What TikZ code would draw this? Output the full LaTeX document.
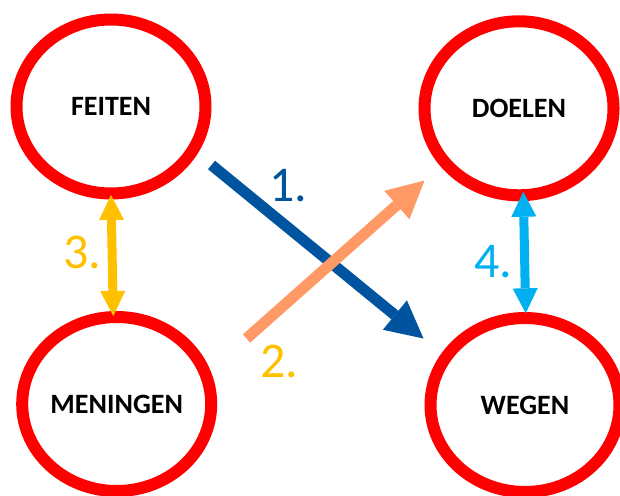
\documentclass[tikz,border=0pt]{standalone}
\usepackage{fontspec}
\setmainfont{Carlito}
\usetikzlibrary{arrows.meta,shapes.geometric}
\definecolor{ringred}{RGB}{255,0,0}
\definecolor{darkblue}{RGB}{0,83,159}
\definecolor{lightorange}{RGB}{255,153,102}
\definecolor{gold}{RGB}{255,192,0}
\definecolor{skyblue}{RGB}{0,176,240}
\begin{document}
\begin{tikzpicture}[x=1pt,y=-1pt,
  ring/.style={ellipse, draw=ringred, line width=12pt, minimum width=189pt,
    minimum height=174pt, inner sep=0pt, font=\fontsize{28}{34}\selectfont\bfseries},
  num/.style={inner sep=0pt, font=\fontsize{50}{60}\selectfont},
  bigarrow/.style={line width=11pt, -{Triangle[length=37pt,width=38pt,line width=0pt]}},
  dblarrow/.style={line width=9pt,
    {Triangle[length=25pt,width=25pt,line width=0pt]}-{Triangle[length=25pt,width=25pt,line width=0pt]}}]
\useasboundingbox (0,0) rectangle (620,495);
\fill[white] (0,0) rectangle (620,495);
% circles
\node[ring] (feiten) at (111,106.5) {FEITEN};
\node[ring] (doelen) at (519,108.3) {DOELEN};
\node[ring] (meningen) at (116.7,404) {MENINGEN};
\node[ring] (wegen) at (525,405) {WEGEN};
% arrow end points
\coordinate (a1s) at (211.5,165);
\coordinate (a1e) at (423.5,338.5);
\coordinate (a2s) at (246.5,338.5);
\coordinate (a2e) at (424.5,180.5);
\coordinate (a3s) at (111,195);
\coordinate (a3e) at (113.3,316);
\coordinate (a4s) at (523.3,191.7);
\coordinate (a4e) at (525.7,313.3);
% arrows
\draw[bigarrow,darkblue] (a1s) -- (a1e);
\draw[bigarrow,lightorange] (a2s) -- (a2e);
\draw[dblarrow,gold] (a3s) -- (a3e);
\draw[dblarrow,skyblue] (a4s) -- (a4e);
% labels
\node[num,text=darkblue] (n1) at (288,186) {1.};
\node[num,text=gold] (n2) at (279,361) {2.};
\node[num,text=gold] (n3) at (82,252.7) {3.};
\node[num,text=skyblue] (n4) at (493.3,261.7) {4.};
\end{tikzpicture}
\end{document}
